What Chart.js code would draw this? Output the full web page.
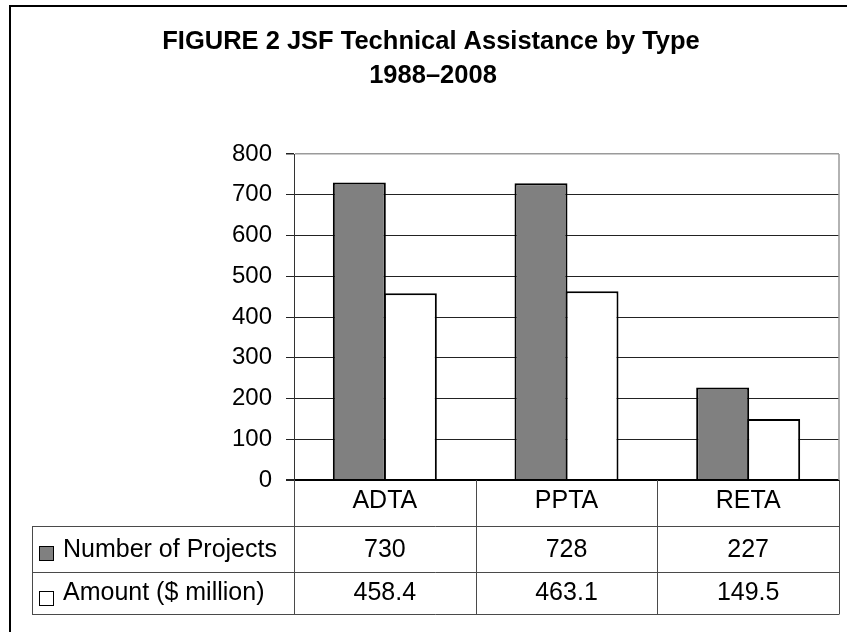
<!DOCTYPE html>
<html>
<head>
<meta charset="utf-8">
<script src="https://cdn.jsdelivr.net/npm/chart.js@4"></script>
<style>
    html, body { margin: 0; padding: 0; background: #fff; }
    #wrap { width: 847px; height: 632px; position: relative; }
</style>
</head>
<body>
<div id="wrap"><canvas id="jsfChart" width="847" height="632"></canvas></div>
<script>
// === Data ===
const categories = ['ADTA', 'PPTA', 'RETA'];
const seriesNames = ['Number of Projects', 'Amount ($ million)'];
const projects = [730, 728, 227];
const amounts = [458.4, 463.1, 149.5];
const titleLines = ['FIGURE 2 JSF Technical Assistance by Type', '1988\u20132008'];
const yMax = 800;
const yStep = 100;

const FONT = '"Liberation Sans", Arial, Helvetica, sans-serif';
const fills = ['#808080', '#ffffff'];

// === Title, outer frame and data table (drawn around the plot) ===
const tablePlugin = {
    id: 'tablePlugin',
    afterDraw(chart) {
        const ctx = chart.ctx;
        const area = chart.chartArea;
        const x = chart.scales.x;
        const catW = x.width / categories.length;
        const rowTops = [area.bottom, 526, 572, 614];
        const tableLeft = 32;

        ctx.save();

        // outer frame
        ctx.strokeStyle = '#000';
        ctx.lineWidth = 2;
        ctx.strokeRect(10, 6, 900, 900);

        // title
        ctx.fillStyle = '#000';
        ctx.textAlign = 'center';
        ctx.textBaseline = 'alphabetic';
        ctx.font = 'bold 25.5px ' + FONT;
        ctx.fillText(titleLines[0], 431, 49);
        ctx.fillText(titleLines[1], 433, 83);

        // plot right border
        ctx.strokeStyle = '#9a9a9a';
        ctx.lineWidth = 1.5;
        ctx.beginPath();
        ctx.moveTo(area.right, area.top);
        ctx.lineTo(area.right, area.bottom);
        ctx.stroke();

        // table lines
        ctx.strokeStyle = '#4a4a4a';
        ctx.lineWidth = 1;
        ctx.beginPath();
        for (let i = 0; i <= categories.length; i++) {
            const vx = Math.round(area.left + i * catW) + 0.5;
            ctx.moveTo(vx, area.bottom);
            ctx.lineTo(vx, rowTops[3]);
        }
        ctx.moveTo(tableLeft + 0.5, rowTops[1]);
        ctx.lineTo(tableLeft + 0.5, rowTops[3]);
        for (let r = 1; r <= 3; r++) {
            ctx.moveTo(tableLeft, rowTops[r] + 0.5);
            ctx.lineTo(area.right + 0.5, rowTops[r] + 0.5);
        }
        ctx.stroke();

        // header row: category names
        ctx.font = '25px ' + FONT;
        ctx.fillStyle = '#000';
        ctx.textAlign = 'center';
        categories.forEach((c, i) => {
            ctx.fillText(c, x.getPixelForValue(i), 508);
        });

        // data rows
        const rows = [projects, amounts];
        const baselines = [557, 600];
        const swatchTops = [546, 591];
        rows.forEach((vals, r) => {
            // legend swatch
            ctx.fillStyle = fills[r];
            ctx.fillRect(39.5, swatchTops[r] + 0.5, 14, 14);
            ctx.strokeStyle = '#000';
            ctx.lineWidth = 1;
            ctx.strokeRect(39.5, swatchTops[r] + 0.5, 14, 14);

            ctx.fillStyle = '#000';
            ctx.textAlign = 'left';
            ctx.fillText(seriesNames[r], 63, baselines[r]);

            ctx.textAlign = 'center';
            vals.forEach((v, i) => {
                ctx.fillText(String(v), x.getPixelForValue(i), baselines[r]);
            });
        });

        ctx.restore();
    }
};

// === Chart ===
const chart = new Chart(document.getElementById('jsfChart').getContext('2d'), {
    type: 'bar',
    data: {
        labels: categories,
        datasets: [
            {
                label: seriesNames[0],
                data: projects,
                backgroundColor: fills[0],
                borderColor: '#000',
                borderWidth: 2
            },
            {
                label: seriesNames[1],
                data: amounts,
                backgroundColor: fills[1],
                borderColor: '#000',
                borderWidth: 2
            }
        ]
    },
    options: {
        responsive: false,
        animation: false,
        devicePixelRatio: 1,
        datasets: {
            // bars overlap by their 2px border so neighbours share one edge
            bar: { categoryPercentage: 0.5615, barPercentage: 1.039 }
        },
        layout: {
            padding: { top: 154, bottom: 152, left: 0, right: 8 }
        },
        plugins: {
            legend: { display: false },
            title: { display: false },
            tooltip: { enabled: false }
        },
        scales: {
            x: {
                display: false
            },
            y: {
                min: 0,
                max: yMax,
                afterFit: (scale) => { scale.width = 294; },
                ticks: {
                    stepSize: yStep,
                    color: '#000',
                    padding: 14,
                    font: { family: FONT, size: 24 }
                },
                grid: {
                    color: (c) => c.tick.value === yMax ? '#9a9a9a' : (c.tick.value === 0 ? '#000' : '#222'),
                    lineWidth: (c) => c.tick.value === 0 ? 2 : (c.tick.value === yMax ? 1.5 : 1),
                    tickColor: '#222',
                    tickLength: 8
                },
                border: { color: '#333', width: 1 }
            }
        }
    },
    plugins: [tablePlugin]
});
</script>
</body>
</html>
